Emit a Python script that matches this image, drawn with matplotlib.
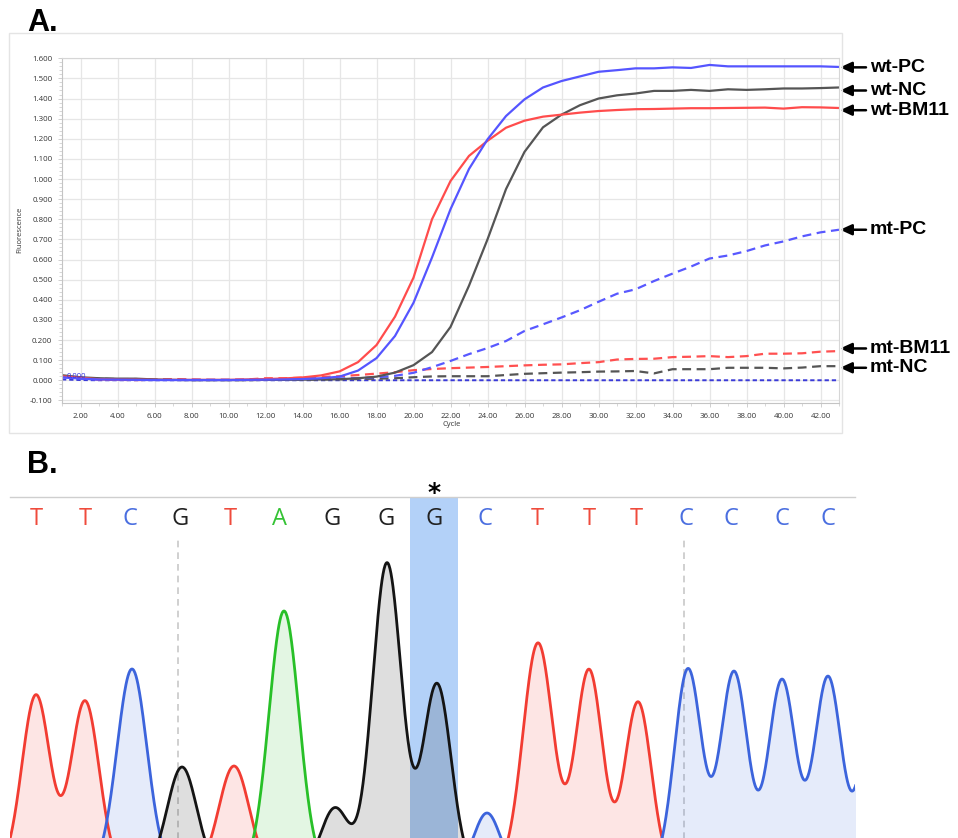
import numpy as np
import matplotlib
matplotlib.use("Agg")
import matplotlib.pyplot as plt
from matplotlib.ticker import FormatStrFormatter, MultipleLocator
from matplotlib.transforms import blended_transform_factory
from matplotlib.patches import Rectangle

# ---------------- Panel A data (qPCR amplification) ----------------
cycles = list(range(1, 44))

wt_pc = [0.015, 0.008, 0.004, 0.003, 0.002, 0.001, 0.001, 0.001, 0.001, 0.001,
         0.002, 0.003, 0.004, 0.006, 0.010, 0.018, 0.048, 0.110, 0.220, 0.385,
         0.610, 0.850, 1.050, 1.197, 1.313, 1.396, 1.455, 1.487, 1.510, 1.533,
         1.541, 1.550, 1.550, 1.555, 1.552, 1.567, 1.560, 1.560, 1.560, 1.560,
         1.560, 1.560, 1.557]
wt_nc = [0.025, 0.015, 0.010, 0.008, 0.008, 0.004, 0.002, 0.001, 0.001, 0.001,
         0.001, 0.002, 0.002, 0.003, 0.004, 0.005, 0.010, 0.018, 0.038, 0.075,
         0.140, 0.265, 0.470, 0.700, 0.950, 1.135, 1.257, 1.320, 1.367, 1.400,
         1.416, 1.425, 1.438, 1.438, 1.443, 1.438, 1.446, 1.443, 1.446, 1.450,
         1.450, 1.452, 1.455]
wt_bm11 = [0.020, 0.012, 0.005, 0.003, 0.003, 0.002, 0.002, 0.002, 0.002, 0.002,
           0.004, 0.006, 0.009, 0.014, 0.024, 0.044, 0.090, 0.175, 0.316, 0.510,
           0.800, 0.990, 1.115, 1.190, 1.255, 1.290, 1.310, 1.320, 1.330, 1.338,
           1.343, 1.347, 1.348, 1.350, 1.352, 1.352, 1.353, 1.354, 1.355, 1.350,
           1.357, 1.356, 1.353]
mt_pc = [0.015, 0.008, 0.003, 0.002, 0.002, 0.002, 0.002, 0.002, 0.002, 0.002,
         0.002, 0.003, 0.004, 0.005, 0.007, 0.009, 0.011, 0.015, 0.022, 0.037,
         0.065, 0.096, 0.130, 0.160, 0.195, 0.245, 0.278, 0.312, 0.348, 0.390,
         0.430, 0.452, 0.493, 0.530, 0.565, 0.605, 0.620, 0.642, 0.670, 0.690,
         0.715, 0.735, 0.748]
mt_bm11 = [0.022, 0.012, 0.004, 0.002, 0.001, 0.002, 0.006, 0.004, 0.002, 0.002,
           0.004, 0.010, 0.010, 0.013, 0.016, 0.020, 0.026, 0.033, 0.040, 0.050,
           0.056, 0.060, 0.063, 0.066, 0.070, 0.074, 0.077, 0.079, 0.085, 0.090,
           0.103, 0.106, 0.107, 0.115, 0.117, 0.120, 0.115, 0.120, 0.132, 0.132,
           0.134, 0.142, 0.145]
mt_nc = [0.020, 0.012, 0.008, 0.006, 0.006, 0.003, 0.002, 0.001, 0.001, 0.001,
         0.001, 0.002, 0.002, 0.003, 0.004, 0.005, 0.006, 0.008, 0.010, 0.015,
         0.019, 0.020, 0.020, 0.020, 0.026, 0.032, 0.035, 0.038, 0.040, 0.043,
         0.044, 0.046, 0.034, 0.055, 0.055, 0.055, 0.062, 0.062, 0.062, 0.059,
         0.063, 0.070, 0.070]
blank = [0.004, 0.001] + [0.000] * 41

series_labels = ["wt-PC", "wt-NC", "wt-BM11", "mt-PC", "mt-BM11", "mt-NC"]
label_y = [1.555, 1.44, 1.342, 0.748, 0.158, 0.062]

# ---------------- Panel B data (Sanger chromatogram) ----------------
base_calls = list("TTCGTAGGGCTTTCCCC")
base_pos = [36, 85, 130, 180, 230, 280, 332, 386, 434, 485, 537, 589, 636,
            686, 731, 782, 828]

T_peak_pos = [36, 85, 234, 538, 589, 638]
T_peak_h = [175, 169, 104, 227, 200, 168]
T_peak_w = [14, 14, 15, 15, 13.5, 13.2]

C_peak_pos = [132, 487, 688, 734, 782, 828, 876]
C_peak_h = [201, 57, 201, 198, 190, 193, 190]
C_peak_w = [15, 13, 13.5, 13.5, 13.5, 13.5, 13.5]

G_peak_pos = [182, 335, 387, 437]
G_peak_h = [103, 62, 307, 186]
G_peak_w = [14.7, 14, 14.5, 14]

A_peak_pos = [284]
A_peak_h = [259]
A_peak_w = [15]

highlight_range = (410, 458)
marker_lines = [178, 684]

# ---------------- Figure ----------------
W, H = 958, 838
fig = plt.figure(figsize=(W / 100, H / 100), dpi=100)
fig.patch.set_facecolor("white")

def fx(px):
    return px / W

def fy(py):
    return 1 - py / H

# Panel A frame
fig.patches.append(Rectangle((fx(9), fy(433)), fx(842) - fx(9), fy(33) - fy(433),
                             transform=fig.transFigure, fill=False,
                             edgecolor="#e4e4e4", lw=1.0))

ax = fig.add_axes([fx(62), fy(403.4), fx(839) - fx(62), fy(58.3) - fy(403.4)])
ax.set_xlim(1, 43)
ax.set_ylim(-0.115, 1.6)

ax.xaxis.set_minor_locator(MultipleLocator(1))
ax.yaxis.set_minor_locator(MultipleLocator(0.02))
ax.set_xticks([c for c in cycles if c % 2 == 0 and c <= 42])
ax.set_yticks(np.round(np.arange(-0.1, 1.61, 0.1), 1))
ax.xaxis.set_major_formatter(FormatStrFormatter("%.2f"))
ax.yaxis.set_major_formatter(FormatStrFormatter("%.3f"))
ax.grid(True, which="major", color="#e6e6e6", lw=0.9)
ax.set_axisbelow(True)
for s in ax.spines.values():
    s.set_color("#d6d6d6")
ax.spines["left"].set_color("#c4c4c4")
ax.spines["bottom"].set_color("#c4c4c4")
ax.tick_params(axis="both", which="major", labelsize=5.7, labelcolor="#333333",
               length=3, color="#c8c8c8", width=0.6)
ax.tick_params(axis="both", which="minor", length=2, color="#c8c8c8", width=0.5)
ax.tick_params(axis="y", which="major", pad=4)
ax.tick_params(axis="x", which="major", pad=4)
for lab in ax.get_xticklabels() + ax.get_yticklabels():
    lab.set_family("Open Sans")

lw = 1.6
ax.plot(cycles, blank, color="#3a3ad8", lw=1.4, dashes=(2.2, 1.5))
ax.plot(cycles, mt_nc, color="#555555", lw=lw, dashes=(4, 2.5))
ax.plot(cycles, mt_bm11, color="#ff5050", lw=lw, dashes=(4, 2.5))
ax.plot(cycles, mt_pc, color="#5858ff", lw=lw, dashes=(4, 2.5))
ax.plot(cycles, wt_nc, color="#555555", lw=lw)
ax.plot(cycles, wt_bm11, color="#ff4c4c", lw=lw)
ax.plot(cycles, wt_pc, color="#5555ff", lw=lw)

ax.text(1.25, 0.02, "0.000", color="#3535e0", fontsize=5.5, va="center",
        ha="left", family="Open Sans")

fig.text(fx(20), fy(230), "Fluorescence", rotation=90, fontsize=5.5,
         ha="center", va="center", color="#333333", family="Open Sans")
fig.text(fx(452), fy(424), "Cycle", fontsize=5.5, ha="center", va="center",
         color="#333333", family="Open Sans")

trans = blended_transform_factory(ax.transAxes, ax.transData)
x_head = (840 - 62) / (839 - 62)
x_tail = (866 - 62) / (839 - 62)
x_text = (870 - 62) / (839 - 62)
for name, ly in zip(series_labels, label_y):
    ax.annotate("", xy=(x_head, ly), xycoords=trans, xytext=(x_tail, ly),
                textcoords=trans, annotation_clip=False,
                arrowprops=dict(arrowstyle="-|>,head_length=0.7,head_width=0.32",
                                color="black", lw=1.8, shrinkA=0, shrinkB=0,
                                mutation_scale=10))
    ax.text(x_text, ly, name, transform=trans, ha="left", va="center",
            fontsize=14, fontweight="bold", family="Liberation Sans",
            clip_on=False)

fig.text(fx(27), fy(31), "A.", fontsize=22, fontweight="bold",
         family="Liberation Sans", ha="left", va="baseline")
fig.text(fx(27), fy(473), "B.", fontsize=22, fontweight="bold",
         family="Liberation Sans", ha="left", va="baseline")

# ---------------- Panel B ----------------
bx = fig.add_axes([fx(10), 0, fx(855) - fx(10), fy(497)])
bx.set_xlim(10, 855)
bx.set_ylim(32, 373)
bx.set_xticks([])
bx.set_yticks([])
for k, s in bx.spines.items():
    s.set_visible(k == "top")
bx.spines["top"].set_color("#cfcfcf")
bx.spines["top"].set_linewidth(1.0)

bx.axvspan(*highlight_range, color="#b3d1f8", zorder=0, lw=0)
for xm in marker_lines:
    bx.plot([xm, xm], [0, 333], color="#c8c8c8", lw=1.2, dashes=(4, 3), zorder=1)

xs = np.arange(0, 900.5, 0.5)

def trace(pos, hts, wds):
    y = np.zeros_like(xs)
    for p, h, w in zip(pos, hts, wds):
        y = y + h * np.exp(-((xs - p) ** 2) / (2.0 * w ** 2))
    return y

channels = [
    (T_peak_pos, T_peak_h, T_peak_w, "#f23c32", (0.94, 0.24, 0.20)),
    (C_peak_pos, C_peak_h, C_peak_w, "#3c64dc", (0.24, 0.40, 0.86)),
    (A_peak_pos, A_peak_h, A_peak_w, "#28c028", (0.16, 0.75, 0.16)),
    (G_peak_pos, G_peak_h, G_peak_w, "#141414", (0.0, 0.0, 0.0)),
]
for pos, hts, wds, lc, fc in channels:
    y = trace(pos, hts, wds)
    bx.fill_between(xs, 0, y, color=fc, alpha=0.13, lw=0, zorder=2)
for pos, hts, wds, lc, fc in channels:
    y = trace(pos, hts, wds)
    bx.plot(xs, y, color=lc, lw=2.0, zorder=3)

base_colors = {"T": "#ef4b3c", "C": "#4b6fe0", "G": "#222222", "A": "#35c335"}
for b, p in zip(base_calls, base_pos):
    bx.text(p, 351, b, color=base_colors[b], fontsize=17, ha="center",
            va="center", family="Open Sans", zorder=4)

bx.text(434, (838 - 500) / 341.0, "*",
        transform=blended_transform_factory(bx.transData, bx.transAxes),
        fontsize=18, fontweight="bold", ha="center", va="baseline",
        family="DejaVu Sans", clip_on=False)

fig.savefig("out.png", dpi=100)
